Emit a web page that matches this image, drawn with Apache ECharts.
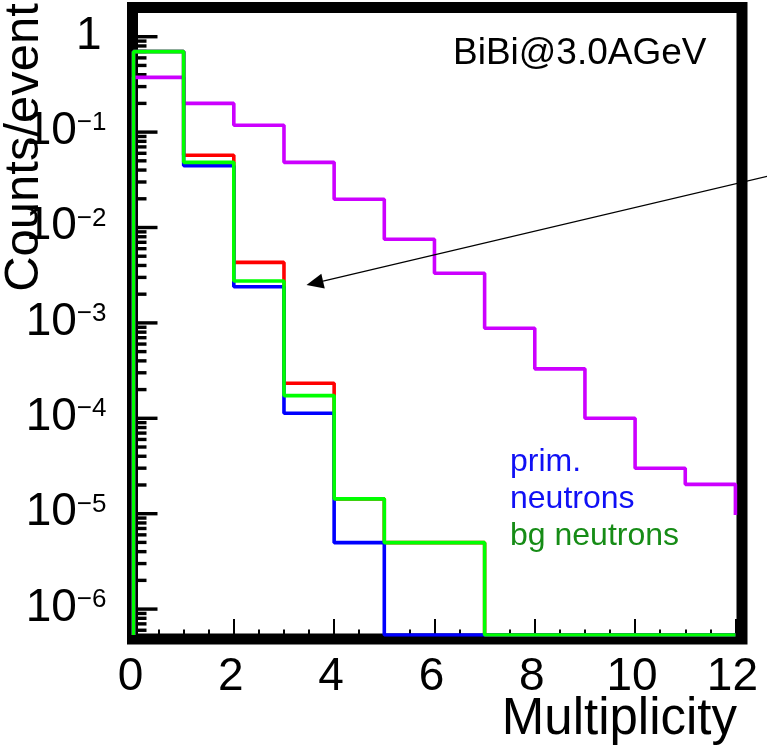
<!DOCTYPE html>
<html>
<head>
<meta charset="utf-8">
<script src="https://cdn.jsdelivr.net/npm/echarts@6/dist/echarts.min.js"></script>
<style>html,body{margin:0;padding:0;background:#fff}#c{width:767px;height:747px}</style>
</head>
<body>
<div id="c"></div>
<script>
// ---- data (bin contents per unit multiplicity bin, 0 = empty bin) ----
const binEdges = [0, 1, 2, 3, 4, 5, 6, 7, 8, 9, 10, 11, 12];
const allCounts   = [0.375, 0.200, 0.118, 0.0482, 0.0198, 0.00752, 0.00331, 8.8e-4, 3.3e-4, 1.0e-4, 3.0e-5, 2.03e-5];
const allClosing  = 9.7e-6;   // level the purple curve drops to at x = 12
const sumCounts   = [0.70, 0.0573, 0.00431, 2.33e-4, 1.43e-5, 4.97e-6, 4.97e-6, 0, 0, 0, 0, 0];
const primCounts  = [0.70, 0.0445, 0.00239, 1.13e-4, 4.97e-6, 0, 0, 0, 0, 0, 0, 0];
const bgCounts    = [0.697, 0.0482, 0.00275, 1.73e-4, 1.43e-5, 4.97e-6, 4.97e-6, 0, 0, 0, 0, 0];
const xTicks = [0, 2, 4, 6, 8, 10, 12];
const yDecades = [-7, -6, -5, -4, -3, -2, -1, 0];
const yMantissas = [1, 2, 3, 4, 5, 6, 7, 8, 9];
const yMin = 5.35e-7, yMax = 2.0;
const legendLines = [
  {text: 'prim.', color: '#1010f5'},
  {text: 'neutrons', color: '#1010f5'},
  {text: 'bg neutrons', color: '#168c16'}
];
const label = 'BiBi@3.0AGeV';

// ---- build step polylines ----
function stepPoints(counts, closing) {
  const pts = [[binEdges[0], yMin]];
  for (let i = 0; i < counts.length; i++) {
    pts.push([binEdges[i], counts[i] > 0 ? counts[i] : yMin]);
  }
  pts.push([binEdges[counts.length], closing && closing > 0 ? closing : yMin]);
  return pts;
}
const tickData = [];
yDecades.forEach(function (k) {
  yMantissas.forEach(function (m) {
    const v = m * Math.pow(10, k);
    if (v >= yMin && v <= yMax) tickData.push([0, v, m === 1 ? 1 : 0]);
  });
});

const FONT = '"Liberation Sans", Arial, Helvetica, sans-serif';
const chart = echarts.init(document.getElementById('c'), null, {renderer: 'canvas'});

function lineSeries(name, counts, closing, color, z) {
  return {
    name: name, type: 'line', step: 'end', symbol: 'none', z: z,
    data: stepPoints(counts, closing), silent: true,
    lineStyle: {color: color, width: 3.6}
  };
}

// arrow geometry (annotation)
const tip = [306.5, 285], tail = [790, 171];
const dx = tail[0] - tip[0], dy = tail[1] - tip[1], dl = Math.sqrt(dx * dx + dy * dy);
const ux = dx / dl, uy = dy / dl, hl = 17, hw = 7.5;
const bx = tip[0] + ux * hl, by = tip[1] + uy * hl;

const option = {
  animation: false,
  backgroundColor: '#ffffff',
  grid: {left: 133.5, right: 23, top: 8, bottom: 112, containLabel: false},
  xAxis: {
    type: 'value', min: 0, max: 12, interval: 2,
    axisLine: {show: false},
    splitLine: {show: false},
    axisTick: {show: true, inside: true, length: 16, lineStyle: {color: '#000', width: 2}},
    minorTick: {show: true, splitNumber: 4, length: 5.5, lineStyle: {color: '#000', width: 2}},
    axisLabel: {
      color: '#000', fontSize: 46, fontFamily: FONT, margin: 19, lineHeight: 46,
      padding: [0, 6, 0, 0],
      formatter: function (v) { return xTicks.indexOf(v) >= 0 ? String(v) : ''; }
    }
  },
  yAxis: {
    type: 'log', logBase: 10, min: yMin, max: yMax,
    axisLine: {show: false},
    splitLine: {show: false},
    axisTick: {show: false},
    axisLabel: {
      margin: 27, color: '#000', fontFamily: FONT,
      showMinLabel: false, showMaxLabel: false,
      formatter: function (v) {
        const l = Math.log10(v), e = Math.round(l);
        if (Math.abs(l - e) > 1e-6) return '';
        if (e === 0) return '{one|1}';
        return '{b|10}{s|\u2212' + (-e) + '}';
      },
      rich: {
        one: {fontSize: 46, lineHeight: 46, fontFamily: FONT, color: '#000', padding: [0, 5, 0, 0]},
        b: {fontSize: 46, lineHeight: 44, fontFamily: FONT, color: '#000', verticalAlign: 'bottom', padding: [9, 0, 0, 0]},
        s: {fontSize: 26, lineHeight: 26, fontFamily: FONT, color: '#000', verticalAlign: 'top'}
      }
    }
  },
  series: [
    {
      type: 'custom', z: 2, silent: true, clip: false,
      data: tickData,
      renderItem: function (params, api) {
        const p = api.coord([0, api.value(1)]);
        const len = api.value(2) ? 24 : 13;
        return {type: 'line', shape: {x1: p[0], y1: p[1], x2: p[0] + len, y2: p[1]},
                style: {stroke: '#000', lineWidth: 3.4}};
      }
    },
    lineSeries('all', allCounts, allClosing, '#cc00ff', 3),
    lineSeries('sum', sumCounts, 0, '#ff0000', 4),
    lineSeries('prim. neutrons', primCounts, 0, '#0000ff', 5),
    lineSeries('bg neutrons', bgCounts, 0, '#00ff00', 6)
  ],
  graphic: [
    {type: 'rect', z: 1, silent: true,
     shape: {x: 132.5, y: 7.5, width: 609.5, height: 631.5},
     style: {fill: 'none', stroke: '#000', lineWidth: 11}},
    {type: 'text', z: 10, x: 24.5, y: 147.5, rotation: Math.PI / 2,
     style: {text: 'Counts/event', font: '49px ' + FONT, fill: '#000', align: 'center', verticalAlign: 'middle'}},
    {type: 'text', z: 10, x: 737, y: 720,
     style: {text: 'Multiplicity', font: '51px ' + FONT, fill: '#000', align: 'right', verticalAlign: 'middle'}},
    {type: 'text', z: 10, x: 453, y: 54,
     style: {text: label, font: '37px ' + FONT, fill: '#000', align: 'left', verticalAlign: 'middle'}},
    {type: 'text', z: 10, x: 510, y: 462,
     style: {text: legendLines[0].text, font: '32px ' + FONT, fill: legendLines[0].color, align: 'left', verticalAlign: 'middle'}},
    {type: 'text', z: 10, x: 510, y: 499.5,
     style: {text: legendLines[1].text, font: '32px ' + FONT, fill: legendLines[1].color, align: 'left', verticalAlign: 'middle'}},
    {type: 'text', z: 10, x: 510, y: 536.5,
     style: {text: legendLines[2].text, font: '32px ' + FONT, fill: legendLines[2].color, align: 'left', verticalAlign: 'middle'}},
    {type: 'line', z: 10, silent: true,
     shape: {x1: bx, y1: by, x2: tail[0], y2: tail[1]},
     style: {stroke: '#000', lineWidth: 1.2}},
    {type: 'polygon', z: 10, silent: true,
     shape: {points: [tip, [bx - uy * hw, by + ux * hw], [bx + uy * hw, by - ux * hw]]},
     style: {fill: '#000'}}
  ]
};
chart.setOption(option);
</script>
</body>
</html>
